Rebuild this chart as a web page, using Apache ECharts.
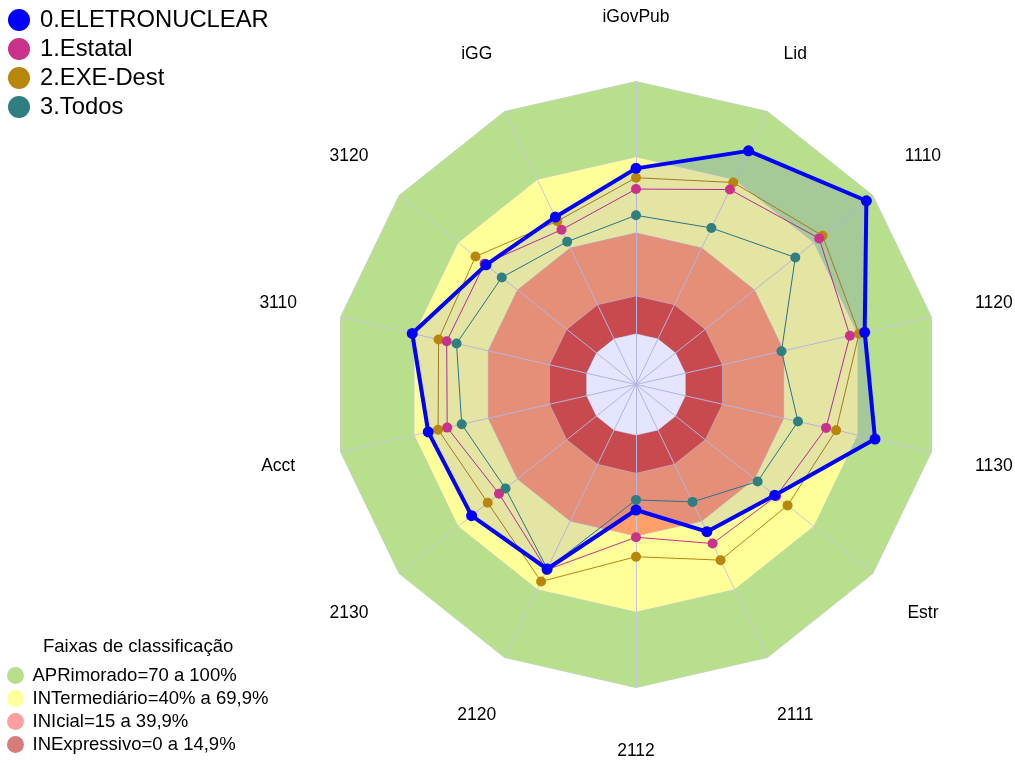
<!DOCTYPE html>
<html>
<head>
<meta charset="utf-8">
<script src="https://cdn.jsdelivr.net/npm/echarts@6/dist/echarts.min.js"></script>
<style>
  html, body { margin: 0; padding: 0; background: #fff; }
  #chart { width: 1015px; height: 763px; }
</style>
</head>
<body>
<div id="chart"></div>
<script>
// eixos, no sentido horario a partir do topo
var eixos = ['iGovPub', 'Lid', '1110', '1120', '1130', 'Estr', '2111', '2112', '2120', '2130', 'Acct', '3110', '3120', 'iGG'];

var eletronuclear = [65.6, 82.7, 96.7, 72.9, 77.1, 50.3, 44.7, 29.7, 61.1, 63.3, 64.4, 70.9, 56.0, 53.6];
var estatal       = [57.4, 65.7, 72.8, 66.9, 57.2, 51.0, 49.9, 40.5, 61.5, 49.4, 56.7, 56.9, 56.7, 48.0];
var exeDest       = [61.9, 68.8, 74.5, 70.6, 61.3, 56.8, 57.2, 48.2, 66.6, 55.1, 60.4, 60.2, 61.3, 51.8];
var todos         = [47.0, 48.8, 60.7, 39.1, 45.8, 41.6, 31.6, 25.7, 61.0, 46.1, 50.8, 52.9, 48.0, 42.8];

// faixas de classificacao (limite superior de cada faixa)
var faixasNomes = ['APRimorado=70 a 100%', 'INTermediário=40% a 69,9%', 'INIcial=15 a 39,9%', 'INExpressivo=0 a 14,9%'];
var faixasLimites = [100, 70, 40, 15];
var faixasCores = ['#B8E08C', '#FFFF99', '#FFA06A', '#E0533A'];
var faixasCoresLegenda = ['#B6DE8B', '#FFFF9C', '#FF9E9E', '#D77B7B'];

var escalaMin = -20, escalaMax = 100;

// echarts desenha os eixos no sentido anti-horario: inverte a ordem
function horario(arr) {
    return [arr[0]].concat(arr.slice(1).reverse());
}

var fonte = 'Liberation Sans, Arial, sans-serif';
var myChart = echarts.init(document.getElementById('chart'), null, { renderer: 'canvas' });

var series = [];
// faixas de fundo
faixasLimites.forEach(function (lim, i) {
    series.push({
        name: faixasNomes[i],
        type: 'radar',
        z: 1,
        silent: true,
        symbol: 'none',
        itemStyle: { color: faixasCoresLegenda[i] },
        lineStyle: { color: '#c9c9dd', width: 1 },
        areaStyle: { color: faixasCores[i], opacity: 1 },
        data: [{ value: eixos.map(function () { return lim; }) }]
    });
});
// miolo branco (abaixo de zero)
series.push({
    name: 'miolo',
    type: 'radar',
    z: 1,
    silent: true,
    symbol: 'none',
    lineStyle: { color: '#c9c9dd', width: 1 },
    areaStyle: { color: '#ffffff', opacity: 1 },
    data: [{ value: eixos.map(function () { return 0; }) }]
});

function serieDados(nome, valores, cor, largura, tam, area) {
    var s = {
        name: nome,
        type: 'radar',
        z: 3,
        symbol: 'circle',
        symbolSize: tam,
        itemStyle: { color: cor },
        lineStyle: { color: cor, width: largura },
        data: [{ value: horario(valores) }]
    };
    if (area) s.areaStyle = { color: area, opacity: 1 };
    return s;
}
series.push(serieDados('2.EXE-Dest', exeDest, '#B8860B', 1, 10));
series.push(serieDados('1.Estatal', estatal, '#C9318A', 1, 10));
series.push(serieDados('3.Todos', todos, '#2F7F80', 1, 10));
series.push(serieDados('0.ELETRONUCLEAR', eletronuclear, '#0000FF', 4, 11, 'rgba(0,0,255,0.1)'));

var option = {
    animation: false,
    textStyle: { fontFamily: fonte },
    title: {
        text: 'Faixas de classificação',
        left: 38,
        top: 632,
        textStyle: { fontSize: 18.5, fontWeight: 'normal', color: '#000', fontFamily: fonte }
    },
    legend: [
        {
            data: ['0.ELETRONUCLEAR', '1.Estatal', '2.EXE-Dest', '3.Todos'],
            orient: 'vertical',
            left: 8,
            top: 8,
            padding: 0,
            icon: 'circle',
            itemWidth: 32,
            itemHeight: 22,
            itemGap: 5,
            selectedMode: false,
            itemStyle: { borderWidth: 0 },
            textStyle: { fontSize: 23.8, color: '#000', fontFamily: fonte }
        },
        {
            data: faixasNomes,
            orient: 'vertical',
            left: 7,
            top: 666,
            padding: 0,
            icon: 'circle',
            itemWidth: 24,
            itemHeight: 17,
            itemGap: 4,
            selectedMode: false,
            itemStyle: { borderWidth: 0 },
            textStyle: { fontSize: 18.5, color: '#000', fontFamily: fonte }
        }
    ],
    radar: {
        z: 2,
        center: [636, 384.5],
        radius: 303,
        startAngle: 90,
        shape: 'polygon',
        indicator: horario(eixos).map(function (n) {
            return { name: n, min: escalaMin, max: escalaMax };
        }),
        axisNameGap: 64,
        axisName: {
            color: '#000',
            fontSize: 17.5,
            fontFamily: fonte,
            align: 'center',
            verticalAlign: 'middle',
            padding: [9, 0, 0, 0]
        },
        axisLine: { lineStyle: { color: '#c9c9dd', width: 1 } },
        axisTick: { show: false },
        axisLabel: { show: false },
        splitLine: { show: false },
        splitArea: { show: false }
    },
    series: series
};
myChart.setOption(option);
</script>
</body>
</html>
